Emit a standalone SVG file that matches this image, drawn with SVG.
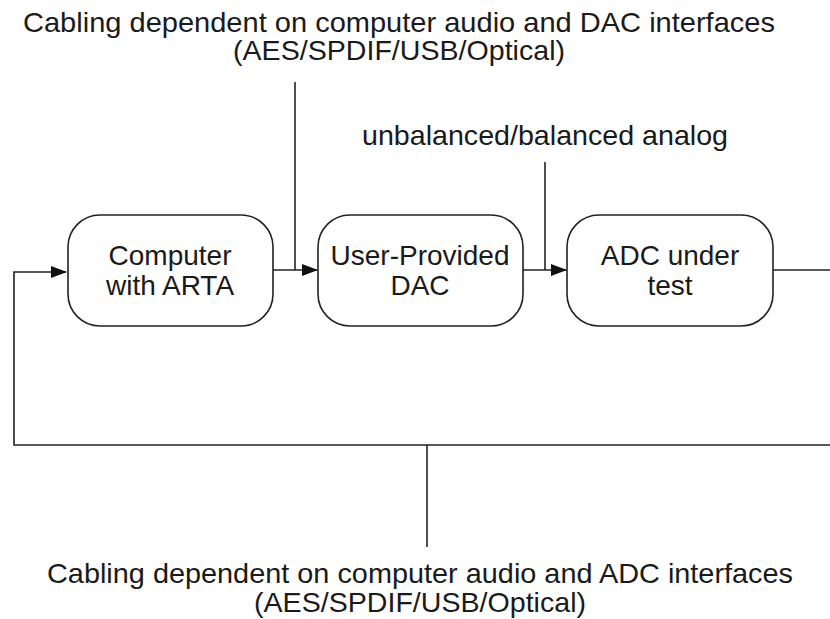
<svg xmlns="http://www.w3.org/2000/svg" width="830" height="619" viewBox="0 0 830 619">
<style>
.t{font-family:"Liberation Sans",Arial,Helvetica,sans-serif;font-size:28px;fill:#1a1a1a;text-anchor:middle}
.box{fill:#fff;stroke:#222;stroke-width:1.6}
.ln{fill:none;stroke:#222;stroke-width:1.6}
</style>
<defs>
<marker id="ah" markerWidth="16" markerHeight="12" refX="15" refY="6" orient="auto" markerUnits="userSpaceOnUse">
<path d="M0,0 L16,6 L0,12 Z" fill="#111"/>
</marker>
</defs>
<rect width="830" height="619" fill="#fff"/>
<g id="labels">
<text class="t" x="399" y="32" textLength="752" lengthAdjust="spacingAndGlyphs">Cabling dependent on computer audio and DAC interfaces</text>
<text class="t" x="399" y="60" textLength="332" lengthAdjust="spacingAndGlyphs">(AES/SPDIF/USB/Optical)</text>
<text class="t" x="545" y="145" textLength="366" lengthAdjust="spacingAndGlyphs">unbalanced/balanced analog</text>
<text class="t" x="420" y="583" textLength="746" lengthAdjust="spacingAndGlyphs">Cabling dependent on computer audio and ADC interfaces</text>
<text class="t" x="420" y="612" textLength="332" lengthAdjust="spacingAndGlyphs">(AES/SPDIF/USB/Optical)</text>
</g>
<g id="connectors">
<line class="ln" x1="295" y1="82" x2="295" y2="270"/>
<line class="ln" x1="273" y1="270" x2="317" y2="270" marker-end="url(#ah)"/>
<line class="ln" x1="545" y1="162" x2="545" y2="270"/>
<line class="ln" x1="523" y1="270" x2="566" y2="270" marker-end="url(#ah)"/>
<line class="ln" x1="773" y1="270" x2="830" y2="270"/>
<polyline class="ln" points="830,445 14,445 14,272 66,272" marker-end="url(#ah)"/>
<line class="ln" x1="427" y1="445" x2="427" y2="547"/>
</g>
<g id="computer">
<rect class="box" x="68" y="215" width="205" height="111" rx="32" ry="32"/>
<text class="t" x="170" y="265">Computer</text>
<text class="t" x="170" y="295">with ARTA</text>
</g>
<g id="dac">
<rect class="box" x="318" y="215" width="205" height="111" rx="32" ry="32"/>
<text class="t" x="420" y="265">User-Provided</text>
<text class="t" x="420" y="295">DAC</text>
</g>
<g id="adc">
<rect class="box" x="567" y="215" width="206" height="111" rx="32" ry="32"/>
<text class="t" x="670" y="265">ADC under</text>
<text class="t" x="670" y="295">test</text>
</g>
</svg>
